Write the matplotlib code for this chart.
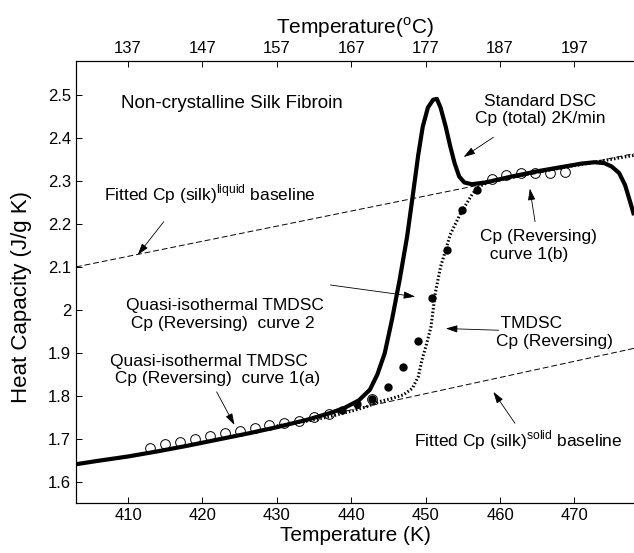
import numpy as np
import matplotlib.pyplot as plt

plt.rcParams['font.family'] = ['Liberation Sans', 'DejaVu Sans']
plt.rcParams['mathtext.fontset'] = 'custom'
plt.rcParams['mathtext.rm'] = 'Liberation Sans'

# ---------- data ----------
# standard DSC, Cp(total) at 2 K/min
dsc_T = [403.0, 406, 410, 414, 418, 422, 426, 430, 434, 437, 439, 441, 442.5,
         443.5, 444.5, 445.5, 446.5, 447.5, 448.3, 449.0, 449.6, 450.3, 451.0,
         451.5, 452.0, 452.7, 453.3, 453.9, 454.5, 455.2, 456.2, 458, 461.6,
         465, 468.3, 471, 472.7, 474, 475, 476, 476.8, 477.5, 478]
dsc_cp = [1.642, 1.650, 1.660, 1.672, 1.685, 1.699, 1.713, 1.728, 1.745, 1.760,
          1.772, 1.790, 1.815, 1.850, 1.900, 1.980, 2.070, 2.170, 2.270, 2.360,
          2.425, 2.470, 2.488, 2.490, 2.470, 2.425, 2.380, 2.340, 2.310, 2.296,
          2.292, 2.296, 2.310, 2.322, 2.332, 2.340, 2.343, 2.341, 2.333, 2.318,
          2.290, 2.250, 2.220]

# TMDSC Cp(reversing)
rev_T = [430, 434, 437, 440, 442, 443.7, 445.5, 447, 448.2, 449, 449.5, 450.1,
         450.7, 451.3, 452.0, 452.7, 453.3, 454.0, 454.8, 455.6, 456.3, 457.1,
         458.5, 461.6, 465, 468.3, 472.7, 475, 478]
rev_cp = [1.731, 1.742, 1.752, 1.765, 1.775, 1.787, 1.795, 1.803, 1.818, 1.845,
          1.884, 1.920, 1.960, 2.040, 2.100, 2.140, 2.175, 2.200, 2.228, 2.250,
          2.270, 2.286, 2.297, 2.308, 2.320, 2.330, 2.343, 2.350, 2.359]

# quasi-isothermal curve 1 (open circles)
qi1_T = [412.9, 414.9, 417.0, 419.0, 421.0, 423.0, 425.0, 427.0, 428.9, 430.9,
         433.0, 435.0, 437.0, 442.8, 458.9, 460.8, 462.8, 464.7, 466.7, 468.7]
qi1_cp = [1.679, 1.689, 1.694, 1.700, 1.707, 1.714, 1.719, 1.727, 1.732, 1.737,
          1.743, 1.751, 1.758, 1.793, 2.304, 2.313, 2.317, 2.318, 2.318, 2.320]

# quasi-isothermal curve 2 (filled circles)
qi2_T = [438.8, 440.8, 442.8, 445.0, 446.9, 448.95, 450.9, 452.9, 454.9, 456.9]
qi2_cp = [1.768, 1.782, 1.793, 1.822, 1.867, 1.929, 2.027, 2.139, 2.232, 2.278]

# fitted baselines (end points)
liq_T = [403.0, 478.0]
liq_cp = [2.100, 2.363]
sol_T = [437.0, 478.0]
sol_cp = [1.757, 1.911]

top_labels = [137, 147, 157, 167, 177, 187, 197]

fig = plt.figure(figsize=(6.34, 5.53), dpi=100)
ax = fig.add_axes([76/634, 50/553, 558/634, 442/553])

ax.plot(liq_T, liq_cp, color='black', lw=0.7, dashes=(6, 3))
ax.plot(sol_T, sol_cp, color='black', lw=0.7, dashes=(6, 3))
ax.plot(rev_T, rev_cp, color='black', lw=2.2, linestyle=(0, (0.5, 0.7)))
ax.plot(dsc_T, dsc_cp, color='black', lw=3.0, solid_capstyle='butt')
ax.plot(qi1_T, qi1_cp, 'o', mfc='none', mec='black', mew=0.7, ms=7)
ax.plot(qi2_T, qi2_cp, 'o', mfc='black', mec='black', ms=5)

ax.set_xlim(403.0, 478.0)
ax.set_ylim(1.552, 2.578)
ax.set_xticks([410, 420, 430, 440, 450, 460, 470])
ax.set_yticks([1.6, 1.7, 1.8, 1.9, 2.0, 2.1, 2.2, 2.3, 2.4, 2.5])
ax.set_yticklabels(['1.6', '1.7', '1.8', '1.9', '2', '2.1', '2.2', '2.3', '2.4', '2.5'])
ax.tick_params(direction='in', length=4, width=0.7, labelsize=12)
ax.spines['right'].set_visible(False)
for s in ['left', 'bottom', 'top']:
    ax.spines[s].set_linewidth(0.8)
ax.set_xlabel('Temperature (K)', fontsize=15, labelpad=2)
ax.set_ylabel('Heat Capacity (J/g K)', fontsize=16)
ax.yaxis.set_label_coords(-0.079, 0.465)

top = ax.twiny()
top.set_xlim(ax.get_xlim())
top.set_xticks([c + 273 for c in top_labels])
top.set_xticklabels([str(c) for c in top_labels])
top.tick_params(direction='in', length=4, width=0.7, labelsize=12)
top.spines['right'].set_visible(False)
top.spines['top'].set_linewidth(0.8)
top.set_xlabel('Temperature($^{\\rm o}$C)', fontsize=15, labelpad=5)

fs = 12.5
arr = dict(arrowstyle='-|>,head_length=0.7,head_width=0.22', color='black', lw=0.6,
           shrinkA=0, shrinkB=0)

ax.text(409.1, 2.48, 'Non-crystalline Silk Fibroin', fontsize=13.5, va='center')

# standard DSC label
ax.text(465.4, 2.464, 'Standard DSC\nCp (total) 2K/min', fontsize=fs, ha='center',
        va='center', multialignment='center')
ax.annotate('', xy=(455.1, 2.355), xytext=(459.1, 2.401), arrowprops=arr)

# liquid baseline label
ax.text(421.0, 2.268, 'Fitted Cp (silk)$^{\\rm liquid}$ baseline', fontsize=fs,
        ha='center', va='center')
ax.annotate('', xy=(411.3, 2.128), xytext=(414.8, 2.205), arrowprops=arr)

# curve 2
ax.text(423.0, 1.99, 'Quasi-isothermal TMDSC\n Cp (Reversing)  curve 2', fontsize=fs,
        ha='center', va='center', multialignment='left')
ax.annotate('', xy=(448.6, 2.031), xytext=(437.2, 2.058), arrowprops=arr)

# curve 1(b)
ax.text(457.3, 2.150, 'Cp (Reversing)\n  curve 1(b)', fontsize=fs, ha='left',
        va='center', multialignment='left')
ax.annotate('', xy=(464.0, 2.282), xytext=(464.7, 2.205), arrowprops=arr)

# TMDSC reversing
ax.text(459.4, 1.948, ' TMDSC\nCp (Reversing)', fontsize=fs, ha='left', va='center',
        multialignment='left')
ax.annotate('', xy=(452.7, 1.957), xytext=(459.8, 1.953), arrowprops=arr)

# solid baseline label
ax.text(462.5, 1.697, 'Fitted Cp (silk)$^{\\rm solid}$ baseline', fontsize=fs,
        ha='center', va='center')
ax.annotate('', xy=(459.1, 1.810), xytext=(462.0, 1.737), arrowprops=arr)

# curve 1(a)
ax.text(407.6, 1.861, 'Quasi-isothermal TMDSC\n Cp (Reversing)  curve 1(a)', fontsize=fs,
        ha='left', va='center', multialignment='left')
ax.annotate('', xy=(424.3, 1.733), xytext=(421.9, 1.810), arrowprops=arr)

fig.savefig('out.png', dpi=100)
